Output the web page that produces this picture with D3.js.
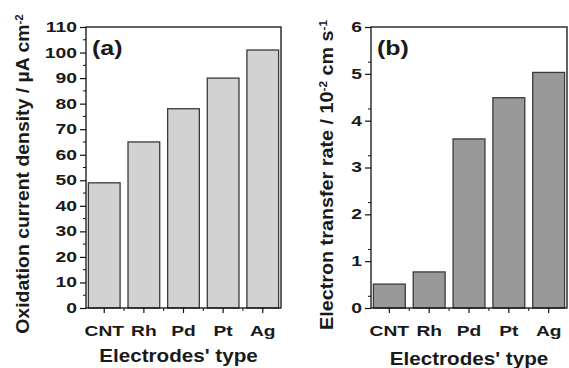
<!DOCTYPE html>
<html>
<head>
<meta charset="utf-8">
<script src="https://cdn.jsdelivr.net/npm/d3@7"></script>
<style>
  body { margin: 0; background: #fff; }
  text { font-family: "Liberation Sans", Arial, sans-serif; font-weight: bold; fill: #1a1a1a; }
</style>
</head>
<body>
<script>
const categories = ['CNT', 'Rh', 'Pd', 'Pt', 'Ag'];
const currentDensity = [49, 65, 78, 90, 101];
const transferRate = [0.51, 0.77, 3.61, 4.49, 5.03];
const ticksA = [0, 10, 20, 30, 40, 50, 60, 70, 80, 90, 100, 110];
const ticksB = [0, 1, 2, 3, 4, 5, 6];

const svg = d3.select('body').append('svg')
  .attr('width', 569)
  .attr('height', 368);

// the source figure is stretched sideways, so text gets a horizontal scale
function stretch(sel, sx) {
  sel.each(function () {
    const t = d3.select(this);
    const x = +t.attr('x') || 0;
    t.attr('x', x / sx).attr('transform', `scale(${sx},1)`);
  });
}

function panel(cfg) {
  const g = svg.append('g');
  const x = d3.scaleBand()
    .domain(categories)
    .range([cfg.left, cfg.right])
    .paddingInner(0.2)
    .paddingOuter(0.06);
  const y = d3.scaleLinear()
    .domain([0, cfg.max])
    .range([308, 27]);

  // bars
  g.selectAll('rect.bar')
    .data(cfg.values)
    .enter().append('rect')
    .attr('class', 'bar')
    .attr('x', (d, i) => x(categories[i]))
    .attr('y', d => y(d))
    .attr('width', x.bandwidth())
    .attr('height', d => y(0) - y(d))
    .attr('fill', cfg.fill)
    .attr('stroke', '#3a3a3a')
    .attr('stroke-width', 1.3);

  // frame
  g.append('rect')
    .attr('x', cfg.left).attr('y', 27)
    .attr('width', cfg.right - cfg.left).attr('height', 281)
    .attr('fill', 'none').attr('stroke', '#111').attr('stroke-width', 1.3);

  // y axis major + minor
  const yAxis = g.append('g').attr('transform', `translate(${cfg.left},0)`)
    .call(d3.axisLeft(y).tickValues(cfg.ticks).tickSize(6).tickPadding(3).tickFormat(d3.format('d')));
  yAxis.select('.domain').remove();
  yAxis.selectAll('line').attr('stroke', '#111').attr('stroke-width', 1.2);
  yAxis.selectAll('text').attr('font-size', 14).attr('font-family', null).attr('fill', '#1a1a1a');
  stretch(yAxis.selectAll('text'), 1.38);
  const minorY = cfg.ticks.slice(0, -1).map(t => t + cfg.step / 2);
  g.selectAll('line.minory').data(minorY).enter().append('line')
    .attr('x1', cfg.left - 3).attr('x2', cfg.left)
    .attr('y1', d => y(d)).attr('y2', d => y(d))
    .attr('stroke', '#111').attr('stroke-width', 1);

  // x axis
  const xAxis = g.append('g').attr('transform', 'translate(0,308)')
    .call(d3.axisBottom(x).tickSize(5).tickPadding(12));
  xAxis.select('.domain').remove();
  xAxis.selectAll('line').attr('stroke', '#111').attr('stroke-width', 1.2);
  xAxis.selectAll('text').attr('font-size', 15).attr('font-family', null).attr('fill', '#1a1a1a');
  stretch(xAxis.selectAll('text'), 1.28);
  const bounds = categories.slice(1).map(c => x(c) - x.step() * x.paddingInner() / 2);
  g.selectAll('line.minorx').data(bounds).enter().append('line')
    .attr('x1', d => d).attr('x2', d => d)
    .attr('y1', 308).attr('y2', 311)
    .attr('stroke', '#111').attr('stroke-width', 1);

  // panel label
  const lab = g.append('text')
    .attr('x', cfg.left + 6).attr('y', 55)
    .attr('font-size', 20.5)
    .text(cfg.label);
  stretch(lab, 1.22);

  // x title
  const xt = g.append('text')
    .attr('x', (cfg.left + cfg.right) / 2 + cfg.xtDx)
    .attr('y', cfg.xtY)
    .attr('text-anchor', 'middle')
    .attr('font-size', 17.5)
    .text("Electrodes' type");
  stretch(xt, 1.18);

  // y title
  const yt = g.append('text')
    .attr('transform', `translate(${cfg.ytX},${cfg.ytY}) rotate(-90) scale(${cfg.ytSx},1)`)
    .attr('text-anchor', 'middle')
    .attr('font-size', 18.5);
  cfg.ytParts.forEach(p => {
    const s = yt.append('tspan').text(p[0]);
    if (p[1]) s.attr('baseline-shift', 'super').attr('font-size', 11);
  });
}

panel({
  left: 86, right: 281, max: 110, step: 10, ticks: ticksA,
  values: currentDensity, fill: '#d2d2d2', label: '(a)',
  xtY: 362, xtDx: -5, ytX: 29, ytY: 174, ytSx: 1.05,
  ytParts: [['Oxidation current density / \u00b5A cm'], ['-2', true]]
});

panel({
  left: 371, right: 567, max: 6, step: 0.5, ticks: ticksB,
  values: transferRate, fill: '#999999', label: '(b)',
  xtY: 365, xtDx: 0, ytX: 333, ytY: 175, ytSx: 1.07,
  ytParts: [['Electron transfer rate / 10'], ['-2', true], [' cm s'], ['-1', true]]
});
</script>
</body>
</html>
